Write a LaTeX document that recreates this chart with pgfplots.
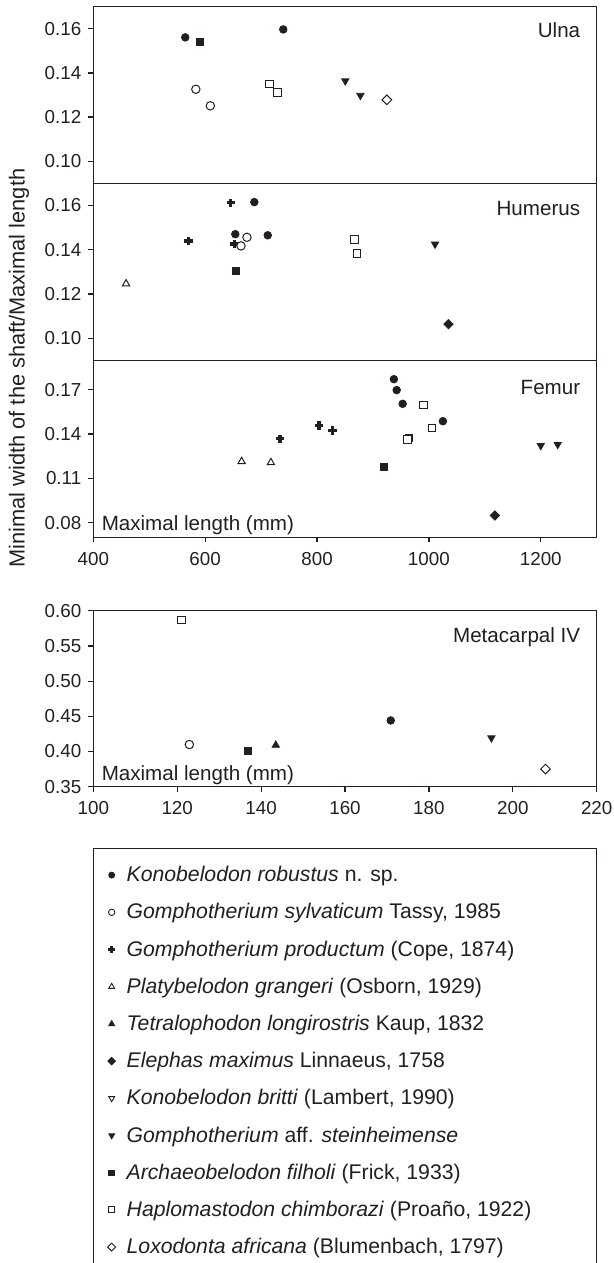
\documentclass[border=0pt]{standalone}
\usepackage{fontspec}
\setmainfont{Liberation Sans}
\usepackage{pgfplots}
\pgfplotsset{compat=1.18}
\definecolor{ink}{RGB}{35,31,32}
\newcommand{\lblfont}{\fontsize{10.3pt}{12pt}\selectfont}
\newcommand{\ylblfont}{\fontsize{10.9pt}{12pt}\selectfont}
\newcommand{\tckfont}{\fontsize{9.4pt}{11pt}\selectfont}
\newcommand{\lgdfont}{\fontsize{10.6pt}{12pt}\selectfont}

% marker styles (plots)
\tikzset{
  kr/.style={mark=*, mark size=1.9pt, draw=ink, fill=ink, mark options={line width=0.4pt}},
  gs/.style={mark=*, mark size=2.1pt, draw=ink, mark options={fill=white, line width=0.5pt}},
  gp/.style={mark=+, mark size=2.1pt, draw=ink, mark options={line width=1.7pt}},
  pg/.style={mark=triangle*, mark size=2.1pt, draw=ink, mark options={fill=white, line width=0.5pt}},
  tl/.style={mark=triangle*, mark size=2.1pt, draw=ink, fill=ink, mark options={line width=0.4pt}},
  em/.style={mark=square*, mark size=1.65pt, draw=ink, fill=ink, mark options={rotate=45, line width=0.4pt}},
  kb/.style={mark=triangle*, mark size=2.1pt, draw=ink, mark options={rotate=180, fill=white, line width=0.5pt}},
  gst/.style={mark=triangle*, mark size=2.1pt, draw=ink, fill=ink, mark options={rotate=180, line width=0.4pt}},
  af/.style={mark=square*, mark size=1.75pt, draw=ink, fill=ink, mark options={line width=0.4pt}},
  hc/.style={mark=square*, mark size=1.9pt, draw=ink, mark options={fill=white, line width=0.5pt}},
  la/.style={mark=square*, mark size=1.7pt, draw=ink, mark options={rotate=45, fill=white, line width=0.5pt}},
% legend versions (smaller)
  krL/.style={mark=*, mark size=1.5pt, draw=ink, fill=ink},
  gsL/.style={mark=*, mark size=1.6pt, draw=ink, mark options={fill=white, line width=0.45pt}},
  gpL/.style={mark=+, mark size=1.7pt, draw=ink, mark options={line width=1.4pt}},
  pgL/.style={mark=triangle*, mark size=1.7pt, draw=ink, mark options={fill=white, line width=0.45pt}},
  tlL/.style={mark=triangle*, mark size=1.7pt, draw=ink, fill=ink},
  emL/.style={mark=square*, mark size=1.35pt, draw=ink, fill=ink, mark options={rotate=45}},
  kbL/.style={mark=triangle*, mark size=1.7pt, draw=ink, mark options={rotate=180, fill=white, line width=0.45pt}},
  gstL/.style={mark=triangle*, mark size=1.7pt, draw=ink, fill=ink, mark options={rotate=180}},
  afL/.style={mark=square*, mark size=1.4pt, draw=ink, fill=ink},
  hcL/.style={mark=square*, mark size=1.5pt, draw=ink, mark options={fill=white, line width=0.45pt}},
  laL/.style={mark=square*, mark size=1.4pt, draw=ink, mark options={rotate=45, fill=white, line width=0.45pt}},
  plab/.style={anchor=base east, inner sep=0pt, font=\lblfont, text=ink},
  mlab/.style={anchor=base west, inner sep=0pt, font=\lblfont, text=ink},
}

\pgfplotsset{
  panel/.style={
    scale only axis, width=251.7pt,
    anchor=north west,
    axis line style={ink, line width=0.6pt},
    tick style={ink, line width=0.6pt},
    tick align=outside, major tick length=2.5pt,
    ytick pos=left, xtick pos=bottom,
    /pgf/number format/assume math mode=true,
    ticklabel style={font=\tckfont, text=ink},
    yticklabel style={/pgf/number format/fixed, /pgf/number format/fixed zerofill, /pgf/number format/precision=2},
    xticklabel style={/pgf/number format/fixed, /pgf/number format/precision=0, /pgf/number format/1000 sep={}, yshift=-1.5pt},
    clip=false,
  },
}

\begin{document}
\begin{tikzpicture}

% ---------------- Ulna ----------------
\begin{axis}[panel, at={(46.65pt,-3.35pt)}, height=88.3pt,
  xmin=400, xmax=1300, ymin=0.09, ymax=0.17,
  xtick=\empty, ytick={0.10,0.12,0.14,0.16}]
\addplot[only marks, kr] coordinates {(564.4,0.1561) (739.6,0.1597)};
\addplot[only marks, af] coordinates {(590.9,0.1540)};
\addplot[only marks, gs] coordinates {(583.3,0.1326) (609.2,0.1251)};
\addplot[only marks, hc] coordinates {(715,0.1349) (728.9,0.1310)};
\addplot[only marks, gst] coordinates {(850.5,0.1364) (877.5,0.1298)};
\addplot[only marks, la] coordinates {(924.8,0.1278)};
\node[plab] at (rel axis cs:0.968,0.827) {Ulna};
\end{axis}

% ---------------- Humerus ----------------
\begin{axis}[panel, at={(46.65pt,-91.65pt)}, height=88.5pt,
  xmin=400, xmax=1300, ymin=0.09, ymax=0.17,
  xtick=\empty, ytick={0.10,0.12,0.14,0.16}]
\addplot[only marks, gp] coordinates {(645.7,0.1612) (570.1,0.1440) (652,0.1425)};
\addplot[only marks, kr] coordinates {(687.9,0.1615) (653.9,0.1470) (711.9,0.1465)};
\addplot[only marks, gs] coordinates {(664,0.1417) (674.7,0.1456)};
\addplot[only marks, af] coordinates {(655.8,0.1302)};
\addplot[only marks, pg] coordinates {(458.6,0.1246)};
\addplot[only marks, hc] coordinates {(866.8,0.1446) (871.2,0.1382)};
\addplot[only marks, gst] coordinates {(1011,0.1425)};
\addplot[only marks, em] coordinates {(1035,0.1063)};
\node[plab] at (rel axis cs:0.968,0.817) {Humerus};
\end{axis}

% ---------------- Femur ----------------
\begin{axis}[panel, at={(46.65pt,-180.15pt)}, height=88.5pt,
  xmin=400, xmax=1300, ymin=0.07, ymax=0.19,
  xtick={400,600,800,1000,1200}, ytick={0.08,0.11,0.14,0.17}]
\addplot[only marks, kr] coordinates {(937.4,0.1772) (942.4,0.1698) (953.1,0.1605) (1025,0.1487)};
\addplot[only marks, hc] coordinates {(990.3,0.1596) (1005.4,0.1442) (964.5,0.1374) (961.3,0.1363)};
\addplot[only marks, gp] coordinates {(733.9,0.1368) (803.2,0.1458) (827.8,0.1424)};
\addplot[only marks, pg] coordinates {(665.2,0.1214) (717.5,0.1207)};
\addplot[only marks, af] coordinates {(919.8,0.1176)};
\addplot[only marks, gst] coordinates {(1200,0.1322) (1230.3,0.1329)};
\addplot[only marks, em] coordinates {(1118,0.0848)};
\node[plab] at (rel axis cs:0.968,0.808) {Femur};
\node[mlab] at (rel axis cs:0.016,0.041) {Maximal length (mm)};
\end{axis}

% ---------------- Metacarpal IV ----------------
\begin{axis}[panel, at={(46.65pt,-305.35pt)}, height=88pt,
  xmin=100, xmax=220, ymin=0.35, ymax=0.60,
  xtick={100,120,140,160,180,200,220},
  ytick={0.35,0.40,0.45,0.50,0.55,0.60},
  legend image code/.code={\path[draw=none, fill=none] (-3pt,-3pt) rectangle (3pt,3pt); \draw[#1] plot coordinates {(0pt,0pt)};},
  legend cell align=left,
  legend style={
    at={(rel axis cs:0.02463,-0.4534)}, anchor=north west,
    draw=none, fill=none, inner sep=0pt, outer sep=0pt,
    font=\lgdfont, text=ink,
    row sep=10pt,
    nodes={inner sep=0pt, text height=7.6pt, text depth=1pt},
    /tikz/every odd column/.append style={column sep=4.5pt},
  }]
\addplot[only marks, hc, forget plot] coordinates {(121.0,0.5867)};
\addplot[only marks, gs, forget plot] coordinates {(122.9,0.4099)};
\addplot[only marks, af, forget plot] coordinates {(136.9,0.4005)};
\addplot[only marks, tl, forget plot] coordinates {(143.5,0.4090)};
\addplot[only marks, kr, forget plot] coordinates {(170.9,0.4441)};
\addplot[only marks, gst, forget plot] coordinates {(194.9,0.4193)};
\addplot[only marks, la, forget plot] coordinates {(207.8,0.3751)};
\node[plab] at (rel axis cs:0.968,0.820) {Metacarpal IV};
\node[mlab] at (rel axis cs:0.016,0.038) {Maximal length (mm)};
\addlegendimage{krL}\addlegendentry{\textit{Konobelodon robustus} n. sp.}
\addlegendimage{gsL}\addlegendentry{\textit{Gomphotherium sylvaticum} Tassy, 1985}
\addlegendimage{gpL}\addlegendentry{\textit{Gomphotherium productum} (Cope, 1874)}
\addlegendimage{pgL}\addlegendentry{\textit{Platybelodon grangeri} (Osborn, 1929)}
\addlegendimage{tlL}\addlegendentry{\textit{Tetralophodon longirostris} Kaup, 1832}
\addlegendimage{emL}\addlegendentry{\textit{Elephas maximus} Linnaeus, 1758}
\addlegendimage{kbL}\addlegendentry{\textit{Konobelodon britti} (Lambert, 1990)}
\addlegendimage{gstL}\addlegendentry{\textit{Gomphotherium} aff. \textit{steinheimense}}
\addlegendimage{afL}\addlegendentry{\textit{Archaeobelodon filholi} (Frick, 1933)}
\addlegendimage{hcL}\addlegendentry{\textit{Haplomastodon chimborazi} (Proaño, 1922)}
\addlegendimage{laL}\addlegendentry{\textit{Loxodonta africana} (Blumenbach, 1797)}
\end{axis}

% y label and legend frame
\node[rotate=90, font=\ylblfont, text=ink, inner sep=0pt] at (9.5pt,-184pt) {Minimal width of the shaft/Maximal length};
\draw[ink, line width=0.6pt] (46.65pt,-632pt) -- (46.65pt,-424.15pt) -- (298.35pt,-424.15pt) -- (298.35pt,-632pt);

\pgfresetboundingbox
\path[use as bounding box] (0pt,0pt) rectangle (307pt,-631.5pt);
\end{tikzpicture}
\end{document}
